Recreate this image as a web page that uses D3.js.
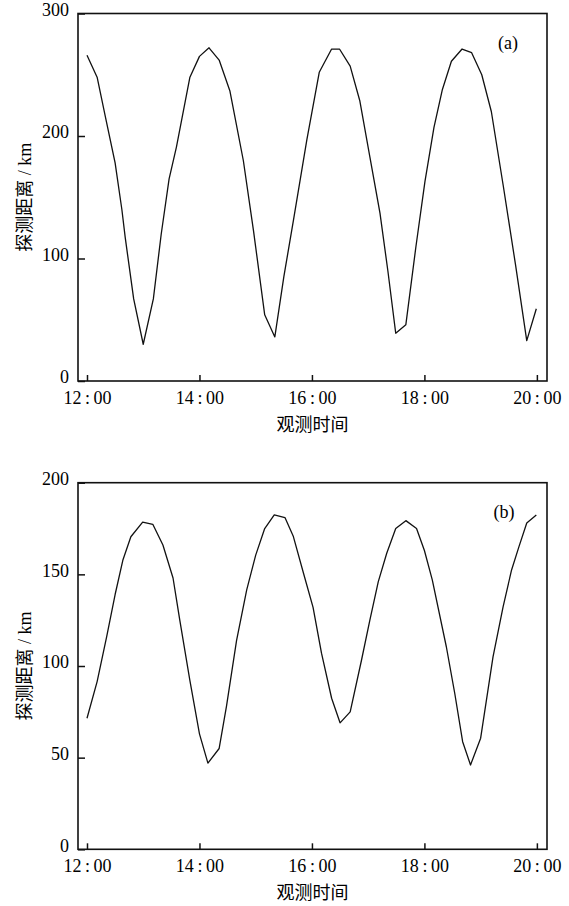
<!DOCTYPE html>
<html>
<head>
<meta charset="utf-8">
<script src="https://cdn.jsdelivr.net/npm/d3@7"></script>
<style>
  body { margin: 0; background: #fff; }
  .chart text { fill: #000; }
</style>
</head>
<body>
<div class="chart"></div>
<script>
var timeA = [12.00, 12.18, 12.33, 12.50, 12.62, 12.68, 12.83, 13.00, 13.18, 13.32, 13.46, 13.59,
  13.83, 14.00, 14.17, 14.35, 14.54, 14.78, 14.96, 15.16, 15.34, 15.50, 15.67, 15.91,
  16.13, 16.35, 16.49, 16.68, 16.85, 17.03, 17.21, 17.35, 17.49, 17.67, 17.85, 18.01,
  18.17, 18.32, 18.48, 18.67, 18.84, 19.02, 19.19, 19.40, 19.62, 19.82, 19.99];
var distA = [266, 248, 215, 178, 140, 117, 67, 30, 67, 120, 165, 191,
  248, 265, 272, 262, 237, 180, 123, 54, 36, 85, 131, 197,
  252, 271, 271, 257, 229, 183, 137, 90, 39, 46, 110, 163,
  207, 238, 261, 271, 268, 250, 220, 160, 95, 33, 59];

var timeB = [12.00, 12.18, 12.35, 12.50, 12.64, 12.78, 12.99, 13.17, 13.35, 13.53, 13.65, 13.83,
  14.00, 14.15, 14.35, 14.48, 14.66, 14.84, 15.00, 15.16, 15.33, 15.52, 15.67, 15.85,
  16.02, 16.17, 16.35, 16.50, 16.68, 16.88, 17.03, 17.18, 17.33, 17.49, 17.67, 17.86,
  18.00, 18.14, 18.39, 18.54, 18.68, 18.82, 19.00, 19.22, 19.40, 19.55, 19.68, 19.82, 19.99];
var distB = [71.5, 91.5, 116, 139, 158, 170.5, 178.5, 177.3, 166, 148, 125, 92,
  63, 47, 55, 78, 114, 141.5, 160.5, 175, 182.4, 181, 170.6, 150.6,
  132, 107, 82.4, 69, 75, 103, 125, 146, 161.5, 175, 179.3, 175,
  163, 147, 110.5, 85, 58.7, 46, 60.6, 105, 132.4, 152.4, 165, 178, 182.4];

var xTicks = [12, 14, 16, 18, 20];
var xTickLabels = ["12\u2009:\u200900", "14\u2009:\u200900", "16\u2009:\u200900", "18\u2009:\u200900", "20\u2009:\u200900"];
var yTicksA = [0, 100, 200, 300];
var yTicksB = [0, 50, 100, 150, 200];

var width = 569, height = 906;
var serif = "'Liberation Serif', 'Noto Sans CJK SC', serif";
var cjk = "'Liberation Serif', 'Noto Sans CJK SC', sans-serif";

var svg = d3.select(".chart").append("svg")
  .attr("width", width)
  .attr("height", height)

var panels = [
  {time: timeA, dist: distA, yMax: 300, yTicks: yTicksA, top: 13.5, bottom: 381, tag: "(a)", tagX: 508, tagY: 49},
  {time: timeB, dist: distB, yMax: 200, yTicks: yTicksB, top: 482.7, bottom: 849.3, tag: "(b)", tagX: 504, tagY: 518}
];

var x = d3.scaleLinear()
  .domain([11.84, 20.18])
  .range([78, 547]);

panels.forEach(function(p) {
  var y = d3.scaleLinear()
    .domain([0, p.yMax])
    .range([p.bottom, p.top]);

  var g = svg.append("g");

  // data line
  var pts = p.time.map(function(t, i) { return [t, p.dist[i]]; });
  g.append("path")
    .datum(pts)
    .attr("fill", "none")
    .attr("stroke", "#111")
    .attr("stroke-width", 1.3)
    .attr("stroke-linejoin", "round")
    .attr("d", d3.line()
      .x(function(d) { return x(d[0]); })
      .y(function(d) { return y(d[1]); }));

  // x axis, ticks pointing inward
  var xAxis = g.append("g")
    .attr("transform", "translate(0," + y(0) + ")")
    .call(d3.axisBottom(x)
      .tickValues(xTicks)
      .tickFormat(function(d, i) { return xTickLabels[i]; })
      .tickSizeInner(-6)
      .tickSizeOuter(0)
      .tickPadding(10));
  xAxis.select(".domain").remove();
  xAxis.selectAll("line").attr("stroke", "#111").attr("stroke-width", 1.5);
  xAxis.selectAll("text")
    .attr("font-family", serif)
    .attr("font-size", "18px")
    .attr("fill", "#000");

  var yAxis = g.append("g")
    .attr("transform", "translate(" + x.range()[0] + ",0)")
    .call(d3.axisLeft(y)
      .tickValues(p.yTicks)
      .tickSizeInner(-7)
      .tickSizeOuter(0)
      .tickPadding(9));
  yAxis.select(".domain").remove();
  yAxis.selectAll("line").attr("stroke", "#111").attr("stroke-width", 1.5);
  yAxis.selectAll("text")
    .attr("font-family", serif)
    .attr("font-size", "18px")
    .attr("dy", "0.1em")
    .attr("fill", "#000");

  // frame
  g.append("rect")
    .attr("x", x.range()[0])
    .attr("y", y(p.yMax))
    .attr("width", x.range()[1] - x.range()[0])
    .attr("height", y(0) - y(p.yMax))
    .attr("fill", "none")
    .attr("stroke", "#111")
    .attr("stroke-width", 1.6);

  g.append("text")
    .text(p.tag)
    .attr("x", p.tagX)
    .attr("y", p.tagY)
    .attr("text-anchor", "middle")
    .attr("font-family", serif)
    .attr("font-size", "18px");

  g.append("text")
    .text("观测时间")
    .attr("x", (x.range()[0] + x.range()[1]) / 2)
    .attr("y", y(0) + 50)
    .attr("text-anchor", "middle")
    .attr("font-family", cjk)
    .attr("font-size", "18px");

  g.append("text")
    .text("探测距离 / km")
    .attr("transform", "translate(31," + ((p.top + p.bottom) / 2) + ") rotate(-90)")
    .attr("text-anchor", "middle")
    .attr("font-family", cjk)
    .attr("font-size", "18px");
});
</script>
</body>
</html>
